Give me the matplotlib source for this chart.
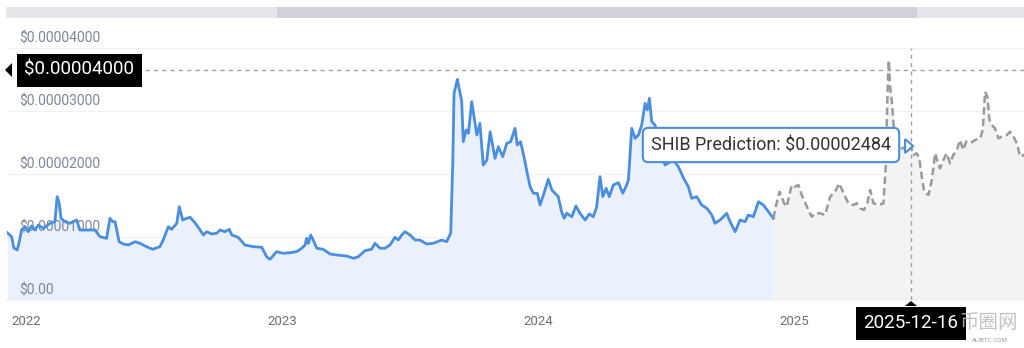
import numpy as np
import matplotlib
matplotlib.use("Agg")
import matplotlib.pyplot as plt
from matplotlib.patches import Rectangle
from matplotlib.transforms import blended_transform_factory

plt.rcParams['font.family'] = ['Roboto', 'DejaVu Sans']

# time in decimal years, price in units of 1e-5 USD
hist_t = [2021.927, 2021.944, 2021.953, 2021.966, 2021.974, 2021.983, 2021.996, 2022.009, 2022.022, 2022.035,
          2022.048, 2022.068, 2022.094, 2022.113, 2022.122, 2022.130, 2022.137, 2022.152, 2022.172, 2022.198,
          2022.211, 2022.237, 2022.270, 2022.289, 2022.315, 2022.328, 2022.339, 2022.348, 2022.364, 2022.380,
          2022.400, 2022.426, 2022.445, 2022.471, 2022.495, 2022.523, 2022.536, 2022.556, 2022.569, 2022.589,
          2022.599, 2022.612, 2022.628, 2022.641, 2022.660, 2022.680, 2022.693, 2022.706, 2022.725, 2022.745,
          2022.758, 2022.777, 2022.794, 2022.804, 2022.829, 2022.855, 2022.888, 2022.921, 2022.940, 2022.953,
          2022.979, 2023.005, 2023.031, 2023.057, 2023.077, 2023.090, 2023.096, 2023.103, 2023.112, 2023.122,
          2023.136, 2023.161, 2023.188, 2023.214, 2023.253, 2023.279, 2023.298, 2023.324, 2023.350, 2023.363,
          2023.383, 2023.402, 2023.422, 2023.441, 2023.454, 2023.468, 2023.480, 2023.500, 2023.520, 2023.539,
          2023.565, 2023.591, 2023.624, 2023.643, 2023.659, 2023.667, 2023.672, 2023.680, 2023.685, 2023.693,
          2023.702, 2023.708, 2023.719, 2023.728, 2023.741, 2023.754, 2023.761, 2023.773, 2023.786, 2023.800,
          2023.813, 2023.832, 2023.845, 2023.862, 2023.878, 2023.893, 2023.910, 2023.919, 2023.932, 2023.945,
          2023.958, 2023.969, 2023.982, 2023.997, 2024.008, 2024.021, 2024.040, 2024.054, 2024.066, 2024.079,
          2024.092, 2024.102, 2024.112, 2024.132, 2024.148, 2024.164, 2024.184, 2024.200, 2024.216, 2024.229,
          2024.242, 2024.253, 2024.266, 2024.278, 2024.294, 2024.314, 2024.331, 2024.346, 2024.353, 2024.366,
          2024.379, 2024.392, 2024.405, 2024.418, 2024.427, 2024.435, 2024.444, 2024.457, 2024.483, 2024.496,
          2024.528, 2024.548, 2024.568, 2024.587, 2024.600, 2024.620, 2024.639, 2024.659, 2024.679, 2024.691,
          2024.711, 2024.737, 2024.750, 2024.770, 2024.789, 2024.809, 2024.821, 2024.841, 2024.861, 2024.880,
          2024.900, 2024.919]
hist_p = [1.068, 1.005, 0.825, 0.794, 0.925, 1.111, 1.163, 1.084, 1.175, 1.111,
          1.190, 1.138, 1.217, 1.243, 1.640, 1.535, 1.297, 1.243, 1.217, 1.270,
          1.111, 1.111, 1.111, 1.005, 0.979, 1.297, 1.243, 1.243, 0.925, 0.889,
          0.873, 0.925, 0.900, 0.846, 0.805, 0.846, 0.952, 1.163, 1.122, 1.217,
          1.481, 1.270, 1.297, 1.313, 1.227, 1.111, 1.032, 1.084, 1.048, 1.059,
          1.111, 1.084, 1.122, 1.032, 0.995, 0.873, 0.846, 0.837, 0.687, 0.646,
          0.767, 0.741, 0.751, 0.767, 0.821, 0.873, 0.979, 0.900, 1.032, 0.952,
          0.821, 0.805, 0.730, 0.714, 0.698, 0.662, 0.687, 0.783, 0.805, 0.900,
          0.821, 0.821, 0.873, 0.995, 0.952, 1.032, 1.084, 1.032, 0.952, 0.952,
          0.889, 0.900, 0.952, 0.925, 1.063, 2.170, 3.281, 3.413, 3.503, 3.333,
          3.148, 2.513, 2.698, 2.646, 3.148, 2.805, 2.619, 2.805, 2.143, 2.222,
          2.671, 2.249, 2.433, 2.275, 2.487, 2.513, 2.725, 2.460, 2.513, 2.275,
          2.011, 1.798, 1.694, 1.694, 1.508, 1.667, 1.916, 1.746, 1.694, 1.640,
          1.402, 1.297, 1.376, 1.322, 1.492, 1.376, 1.270, 1.365, 1.322, 1.481,
          1.957, 1.640, 1.773, 1.640, 1.825, 1.862, 1.694, 1.825, 1.905, 2.725,
          2.567, 2.619, 2.778, 3.122, 3.016, 3.202, 2.830, 2.778, 2.329, 2.143,
          2.222, 2.116, 1.937, 1.798, 1.614, 1.640, 1.508, 1.456, 1.349, 1.217,
          1.270, 1.376, 1.243, 1.084, 1.270, 1.243, 1.349, 1.322, 1.560, 1.508,
          1.402, 1.297]

pred_t = [2024.919, 2024.930, 2024.943, 2024.952, 2024.961, 2024.971, 2024.991, 2025.004, 2025.017, 2025.030,
          2025.050, 2025.069, 2025.082, 2025.102, 2025.121, 2025.141, 2025.160, 2025.177, 2025.193, 2025.212,
          2025.232, 2025.245, 2025.258, 2025.273, 2025.286, 2025.297, 2025.310, 2025.329, 2025.349, 2025.358,
          2025.362, 2025.366, 2025.370, 2025.375, 2025.382, 2025.388, 2025.402, 2025.426, 2025.441, 2025.453,
          2025.466, 2025.479, 2025.489, 2025.499, 2025.508, 2025.525, 2025.538, 2025.551, 2025.560, 2025.570,
          2025.583, 2025.596, 2025.609, 2025.622, 2025.636, 2025.648, 2025.661, 2025.672, 2025.688, 2025.707,
          2025.727, 2025.737, 2025.746, 2025.755, 2025.763, 2025.772, 2025.785, 2025.798, 2025.811, 2025.831,
          2025.844, 2025.857, 2025.870, 2025.883, 2025.896, 2025.910]
pred_p = [1.297, 1.508, 1.719, 1.640, 1.535, 1.481, 1.825, 1.798, 1.825, 1.667,
          1.481, 1.322, 1.376, 1.376, 1.349, 1.640, 1.719, 1.852, 1.694, 1.535,
          1.508, 1.535, 1.456, 1.429, 1.535, 1.746, 1.535, 1.508, 1.535, 2.116,
          2.805, 3.440, 3.810, 3.386, 3.148, 2.805, 2.381, 2.413, 2.429, 2.484,
          2.302, 2.329, 2.249, 1.957, 1.719, 1.667, 1.905, 2.329, 2.195, 2.090,
          2.222, 2.329, 2.170, 2.302, 2.381, 2.540, 2.381, 2.513, 2.487, 2.540,
          2.567, 2.698, 3.306, 3.227, 2.857, 2.778, 2.725, 2.567, 2.592, 2.619,
          2.671, 2.592, 2.487, 2.275, 2.302, 2.250]

ytick_vals = [0, 1, 2, 3, 4]
ytick_labels = ["$0.00", "$0.00001000", "$0.00002000", "$0.00003000", "$0.00004000"]
year_ticks = [2022, 2023, 2024, 2025]

cursor_t = 2025.457
cursor_date = "2025-12-16"
cursor_price = 3.651
cursor_price_label = "$0.00004000"
tooltip_text = "SHIB Prediction: $0.00002484"

scale = 1e-5
hist_y = np.array(hist_p) * scale
pred_y = np.array(pred_p) * scale

W, H = 1024, 348
fig = plt.figure(figsize=(W / 100, H / 100), dpi=100)
ax = fig.add_axes([7 / W, 1 - 300 / H, 1 - 7 / W, 252 / H])

# top navigator bar
fig.patches.append(Rectangle((6 / W, 1 - 18 / H), 1 - 6 / W, 11 / H, transform=fig.transFigure,
                             fc='#e5e6ec', ec='none'))
fig.patches.append(Rectangle((277 / W, 1 - 18 / H), 640 / W, 11 / H, transform=fig.transFigure,
                             fc='#d0d1d9', ec='none'))

# gridlines and y labels (labels sit over the fill but under the line)
trans = blended_transform_factory(ax.transAxes, ax.transData)
for v, lab in zip(ytick_vals, ytick_labels):
    if v > 0:
        ax.axhline(v * scale, color='#f1f1f3', lw=1, zorder=0)
    ax.annotate(lab, xy=(0.0125, v * scale), xycoords=trans, xytext=(0, 7), textcoords='offset points',
                ha='left', va='center', fontsize=10, color='#7d8799', zorder=3, annotation_clip=False)
ax.axhline(0, color='#c9ccd4', lw=1.2, zorder=1)

# history
ax.fill_between(hist_t, hist_y, 0, color='#eaf1fc', lw=0, zorder=2)
ax.plot(hist_t, hist_y, color='#4a8ee0', lw=2, zorder=4)

# prediction
ax.fill_between(pred_t, pred_y, 0, color='#f3f3f4', lw=0, zorder=2)
ax.plot(pred_t, pred_y, color='#9a9a9a', lw=1.8, ls=(0, (3, 1.6)), zorder=4)

ax.set_xlim(2021.926, 2025.898)
ax.set_ylim(0, 4 * scale)
ax.set_yticks([])
ax.set_xticks(year_ticks)
ax.set_xticklabels([str(y) for y in year_ticks], fontsize=9.5, color='#6e6e6e')
ax.tick_params(axis='x', length=0, pad=11)
for s in ax.spines.values():
    s.set_visible(False)
ax.patch.set_alpha(0)

# crosshair
ax.axhline(cursor_price * scale, xmin=0.136, xmax=1, color='#a0a0a0', lw=1, ls=(0, (3, 3)), zorder=3)
ax.axvline(cursor_t, color='#a0a0a0', lw=1, ls=(0, (3, 3)), zorder=3)

fig.text(79 / W, 1 - 70 / H, cursor_price_label, ha='center', va='center', fontsize=13.5, color='white',
         bbox=dict(boxstyle='square,pad=0.4', fc='black', ec='none'))
fig.patches.append(plt.Polygon([[5 / W, 1 - 70 / H], [12 / W, 1 - 63 / H], [12 / W, 1 - 77 / H]],
                               closed=True, transform=fig.transFigure, fc='black', ec='none'))

fig.text(910.5 / W, 1 - 323 / H, cursor_date, ha='center', va='center', fontsize=13.5, color='white',
         bbox=dict(boxstyle='square,pad=0.4', fc='black', ec='none'), zorder=5)
fig.patches.append(plt.Polygon([[911 / W, 1 - 301 / H], [905 / W, 1 - 306 / H], [917 / W, 1 - 306 / H]],
                               closed=True, transform=fig.transFigure, fc='black', ec='none'))

# tooltip
fig.text(771 / W, 1 - 145 / H, tooltip_text, ha='center', va='center', fontsize=13, color='#333333',
         bbox=dict(boxstyle='round,pad=0.45,rounding_size=0.3', fc='white', ec='#4a8ee0', lw=1.5), zorder=6)
fig.patches.append(plt.Polygon([[913 / W, 1 - 146 / H], [905 / W, 1 - 139 / H], [905 / W, 1 - 153 / H]],
                               closed=True, transform=fig.transFigure, fc='white', ec='#4a8ee0', lw=1.5,
                               zorder=7))

# watermark
fig.text(989 / W, 1 - 322 / H, "币圈网", ha='center', va='center', fontsize=14, color='#bdbdbd',
         family=['Noto Sans CJK SC', 'DejaVu Sans'], alpha=0.9, zorder=8)
fig.text(990 / W, 1 - 341 / H, "ALIBTC.COM", ha='center', va='center', fontsize=4.5, color='#9a9a9a', zorder=8)

fig.savefig("out.png", dpi=100, facecolor='white')
